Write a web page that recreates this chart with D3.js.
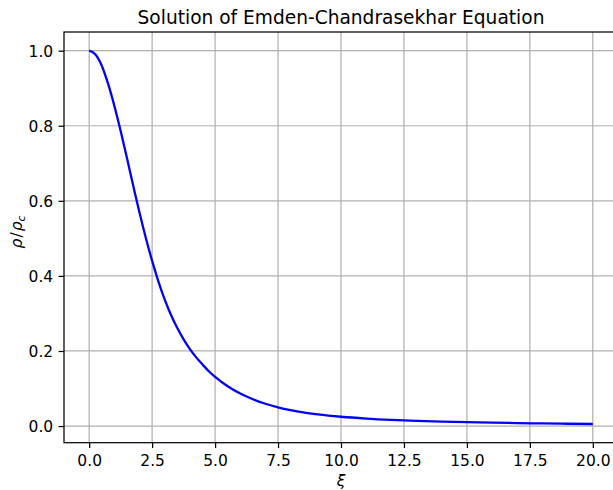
<!DOCTYPE html>
<html><head><meta charset="utf-8">
<script src="https://cdn.jsdelivr.net/npm/d3@7"></script>
<style>
body{margin:0;background:#fff;}
svg text{font-family:"DejaVu Sans",sans-serif;fill:#000;}
</style></head>
<body><svg id="c" width="613" height="490"></svg>
<script>
const xi = [0,0.25,0.5,0.75,1.0,1.25,1.5,1.75,2.0,2.25,2.5,2.75,3.0,3.25,3.5,3.75,4.0,4.25,4.5,4.75,5.0,5.5,6.0,6.5,7.0,7.5,8.0,8.5,9.0,9.5,10,11,12,13,14,15,16,17,18,19,20];
const rho = [1.000,0.990,0.960,0.912,0.853,0.786,0.714,0.640,0.568,0.501,0.440,0.385,0.337,0.296,0.261,0.231,0.205,0.183,0.164,0.146,0.131,0.106,0.0865,0.0715,0.0595,0.050,0.0425,0.0365,0.032,0.028,0.0248,0.020,0.0165,0.0139,0.0119,0.0103,0.009,0.0079,0.007,0.0061,0.0054];
const xTicks = [0,2.5,5,7.5,10,12.5,15,17.5,20];
const yTicks = [0,0.2,0.4,0.6,0.8,1.0];

const svg = d3.select("#c");
const L = 64, T = 32, R = 618, B = 442.7;
const xmin = d3.min(xi), xmax = d3.max(xi), xm = (xmax - xmin) * 0.05;
const ymin = d3.min(rho), ymax = d3.max(rho), ym = (ymax - ymin) * 0.05;
const x = d3.scaleLinear().domain([xmin - xm, xmax + xm]).range([L, R]);
const y = d3.scaleLinear().domain([ymin - ym, ymax + ym]).range([B, T]);

// grid
const g = svg.append("g");
g.selectAll("line.gx").data(xTicks).join("line")
  .attr("x1", d => x(d)).attr("x2", d => x(d)).attr("y1", T).attr("y2", B)
  .attr("stroke", "#b0b0b0").attr("stroke-width", 1.24);
g.selectAll("line.gy").data(yTicks).join("line")
  .attr("y1", d => y(d)).attr("y2", d => y(d)).attr("x1", L).attr("x2", R)
  .attr("stroke", "#b0b0b0").attr("stroke-width", 1.24);

// line
svg.append("path").datum(xi.map((d, i) => [d, rho[i]]))
  .attr("fill", "none").attr("stroke", "#0000ff").attr("stroke-width", 2.3)
  .attr("d", d3.line().x(d => x(d[0])).y(d => y(d[1])).curve(d3.curveMonotoneX));

// axes
const xa = svg.append("g").attr("transform", `translate(0,${B})`)
  .call(d3.axisBottom(x).tickValues(xTicks).tickFormat(d3.format(".1f")).tickSize(5.4).tickPadding(5.4));
const ya = svg.append("g").attr("transform", `translate(${L},0)`)
  .call(d3.axisLeft(y).tickValues(yTicks).tickFormat(d3.format(".1f")).tickSize(5.4).tickPadding(5.4));
[xa, ya].forEach(a => {
  a.selectAll("text").attr("font-size", "15.5px").attr("font-family", "DejaVu Sans").attr("fill", "#000");
  a.selectAll("line").attr("stroke", "#000").attr("stroke-width", 1.24);
  a.select(".domain").remove();
});
xa.selectAll("text").attr("dy", null).attr("y", 466 - B);
ya.selectAll("text").attr("dy", "0.36em");
// spines
svg.append("rect").attr("x", L).attr("y", T).attr("width", R - L).attr("height", B - T)
  .attr("fill", "none").attr("stroke", "#000").attr("stroke-width", 1.24);

// title & labels
svg.append("text").attr("x", (L + R) / 2).attr("y", 23.5).attr("text-anchor", "middle")
  .attr("font-size", "18.6px").text("Solution of Emden-Chandrasekhar Equation");
svg.append("text").attr("x", (L + R) / 2).attr("y", 485.5).attr("text-anchor", "middle")
  .attr("font-size", "15.5px").attr("font-style", "italic").text("ξ");
const yl = svg.append("text").attr("transform", `translate(22,232) rotate(-90)`)
  .attr("text-anchor", "middle").attr("font-size", "15.5px").attr("font-style", "italic");
yl.append("tspan").text("ρ");
yl.append("tspan").attr("dx", 1).attr("font-style", "normal").text("/");
yl.append("tspan").attr("dx", 1).text("ρ");
yl.append("tspan").attr("font-size", "10.8px").attr("dy", 3).text("c");
</script></body></html>
